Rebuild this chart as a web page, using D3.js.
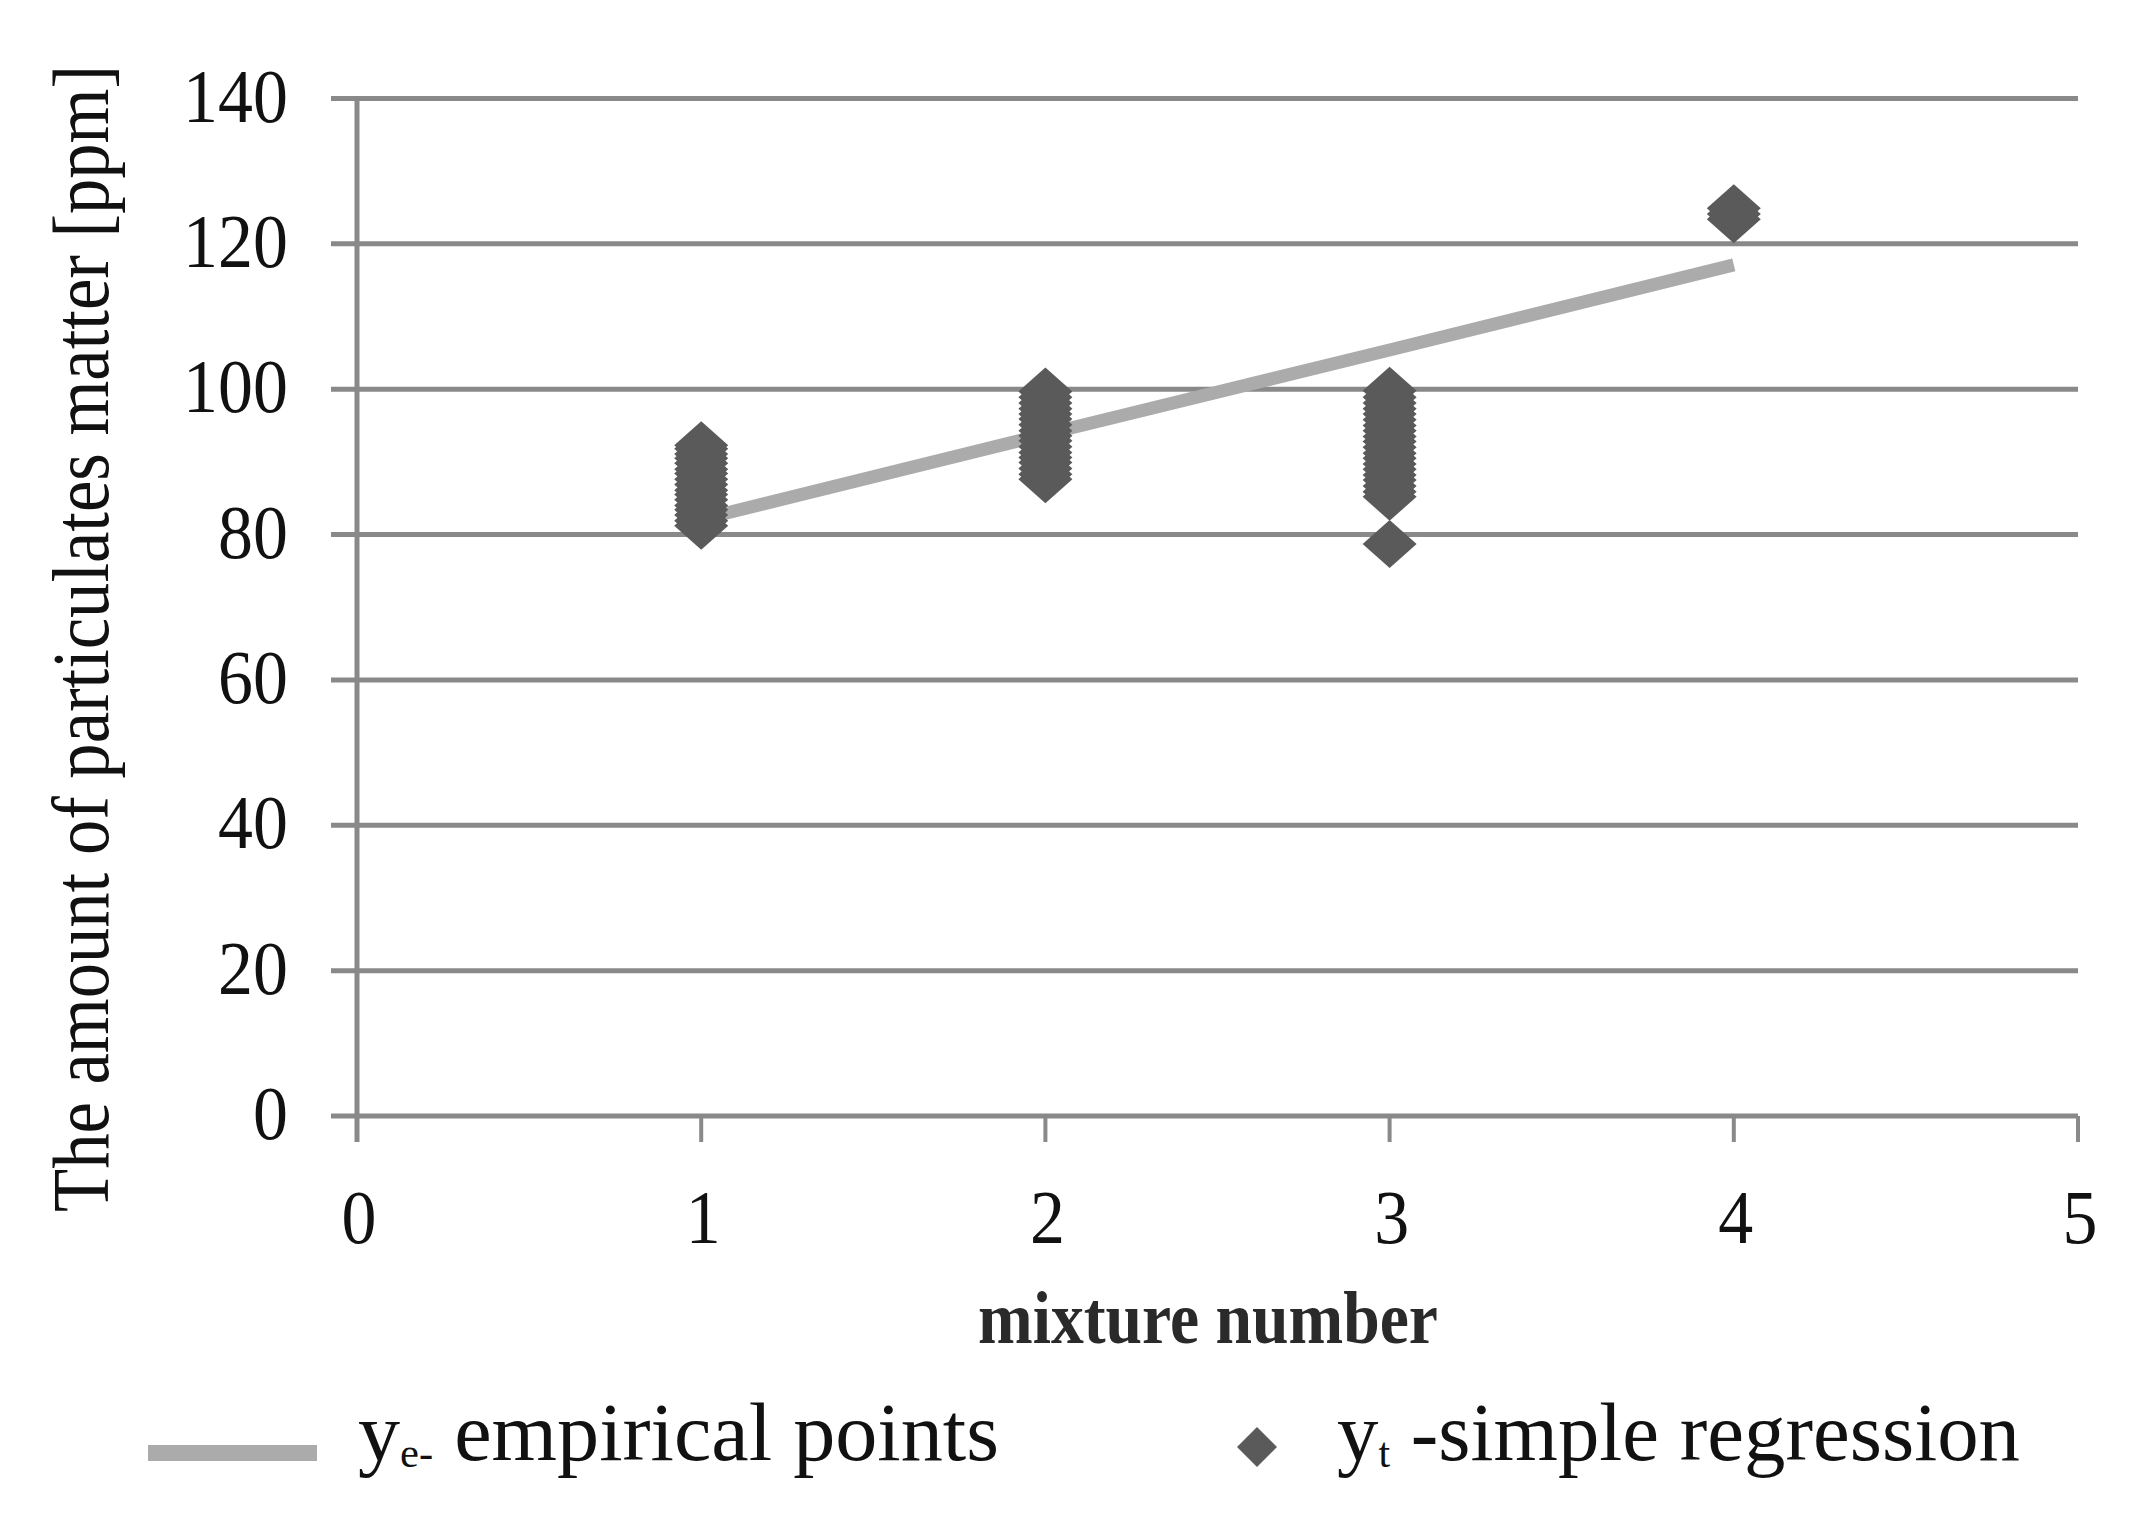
<!DOCTYPE html>
<html>
<head>
<meta charset="utf-8">
<script src="https://cdn.jsdelivr.net/npm/d3@7"></script>
<style>
  html, body { margin: 0; padding: 0; background: #fff; }
  svg { display: block; }
  text { font-family: "Liberation Serif", "Times New Roman", serif; }
</style>
</head>
<body>
<svg id="chart" width="2145" height="1518"></svg>
<script>
// ---------- data ----------
const xTickValues = [0, 1, 2, 3, 4, 5];
const yTickValues = [0, 20, 40, 60, 80, 100, 120, 140];

// y_e - empirical points (grey line)
const empiricalX = [1, 2, 3, 4];
const empiricalY = [82.1, 93.8, 105.4, 117.1];

// y_t - simple regression (diamond markers), per mixture number
const mixtureNumbers = [1, 2, 3, 4];
const mixture1 = [81.2, 81.9, 82.7, 83.4, 84.0, 84.8, 85.5, 86.1, 86.9, 87.6, 88.4, 89.0, 89.8, 90.5, 91.1, 91.8, 92.3];
const mixture2 = [87.6, 88.3, 89.1, 89.9, 90.6, 91.3, 92.1, 92.9, 93.6, 94.3, 95.1, 95.9, 96.6, 97.3, 98.1, 98.9, 99.7];
const mixture3 = [78.7, 85.2, 85.9, 86.7, 87.5, 88.2, 89.0, 89.7, 90.5, 91.2, 92.0, 92.8, 93.5, 94.3, 95.0, 95.8, 96.6, 97.3, 98.1, 98.9, 99.8];
const mixture4 = [123.4, 124.1, 124.9];

const xTitle = "mixture number";
const yTitle = "The amount of particulates matter [ppm]";

// ---------- layout ----------
const svg = d3.select("#chart");
const x = d3.scaleLinear().domain([0, 5]).range([357, 2078]);
const y = d3.scaleLinear().domain([0, 140]).range([1116, 98.5]);

const gridColor = "#898989";
const lineColor = "#ababab";
const markerColor = "#5a5a5a";
const textColor = "#111";
const tickLen = 26;

// gridlines (horizontal) including x axis line at 0
svg.append("g").selectAll("line").data(yTickValues).join("line")
  .attr("x1", x(0) - tickLen).attr("x2", x(5))
  .attr("y1", d => y(d)).attr("y2", d => y(d))
  .attr("stroke", gridColor).attr("stroke-width", 5);

// y axis vertical line
svg.append("line")
  .attr("x1", x(0)).attr("x2", x(0))
  .attr("y1", y(140) - 2).attr("y2", y(0) + tickLen)
  .attr("stroke", gridColor).attr("stroke-width", 5);

// x ticks
svg.append("g").selectAll("line").data(xTickValues.slice(1)).join("line")
  .attr("x1", d => x(d)).attr("x2", d => x(d))
  .attr("y1", y(0)).attr("y2", y(0) + tickLen)
  .attr("stroke", gridColor).attr("stroke-width", 4);

// y tick labels
svg.append("g").selectAll("text").data(yTickValues).join("text")
  .attr("transform", d => `translate(288,${y(d) + 23}) scale(0.92,1)`)
  .attr("text-anchor", "end")
  .attr("font-size", 76)
  .attr("fill", textColor)
  .text(d => d);

// x tick labels
svg.append("g").selectAll("text").data(xTickValues).join("text")
  .attr("transform", d => `translate(${x(d) + 2},1243) scale(0.92,1)`)
  .attr("text-anchor", "middle")
  .attr("font-size", 76)
  .attr("fill", textColor)
  .text(d => d);

// axis titles
svg.append("text")
  .attr("x", 1208).attr("y", 1343)
  .attr("text-anchor", "middle")
  .attr("font-size", 74)
  .attr("font-weight", "bold")
  .attr("fill", "#2a2a2a")
  .attr("textLength", 460).attr("lengthAdjust", "spacingAndGlyphs")
  .text(xTitle);

svg.append("text")
  .attr("transform", "translate(108,638.5) rotate(-90)")
  .attr("text-anchor", "middle")
  .attr("font-size", 80)
  .attr("fill", textColor)
  .attr("textLength", 1147).attr("lengthAdjust", "spacingAndGlyphs")
  .text(yTitle);

// empirical line
const lineGen = d3.line().x(d => x(d[0])).y(d => y(d[1]));
svg.append("path")
  .datum(d3.zip(empiricalX, empiricalY))
  .attr("d", lineGen)
  .attr("fill", "none")
  .attr("stroke", lineColor)
  .attr("stroke-width", 13)
  .attr("stroke-linecap", "butt")
  .attr("stroke-linejoin", "round");

// diamond markers
const dHalfW = 27, dHalfH = 24;
function diamond(cx, cy, hw, hh) {
  const p = d3.path();
  p.moveTo(cx, cy - hh); p.lineTo(cx + hw, cy); p.lineTo(cx, cy + hh); p.lineTo(cx - hw, cy); p.closePath();
  return p.toString();
}
const allMixtures = [mixture1, mixture2, mixture3, mixture4];
const points = [];
mixtureNumbers.forEach((m, i) => allMixtures[i].forEach(v => points.push([m, v])));
svg.append("g").selectAll("path").data(points).join("path")
  .attr("d", d => diamond(x(d[0]), y(d[1]), dHalfW, dHalfH))
  .attr("fill", markerColor);

// ---------- legend ----------
svg.append("line")
  .attr("x1", 148).attr("x2", 317).attr("y1", 1453).attr("y2", 1453)
  .attr("stroke", lineColor).attr("stroke-width", 16);

const leg1 = svg.append("text").attr("x", 358).attr("y", 1460)
  .attr("font-size", 83).attr("fill", textColor)
  .attr("textLength", 641).attr("lengthAdjust", "spacingAndGlyphs");
leg1.append("tspan").text("y");
leg1.append("tspan").attr("font-size", 42).attr("dy", 7).text("e-");
leg1.append("tspan").attr("dy", -7).text(" empirical points");

svg.append("path")
  .attr("d", diamond(1257, 1447, 20, 20))
  .attr("fill", markerColor);

const leg2 = svg.append("text").attr("x", 1337).attr("y", 1460)
  .attr("font-size", 83).attr("fill", textColor)
  .attr("textLength", 683).attr("lengthAdjust", "spacingAndGlyphs");
leg2.append("tspan").text("y");
leg2.append("tspan").attr("font-size", 42).attr("dy", 7).text("t");
leg2.append("tspan").attr("dy", -7).text(" -simple regression");
</script>
</body>
</html>
